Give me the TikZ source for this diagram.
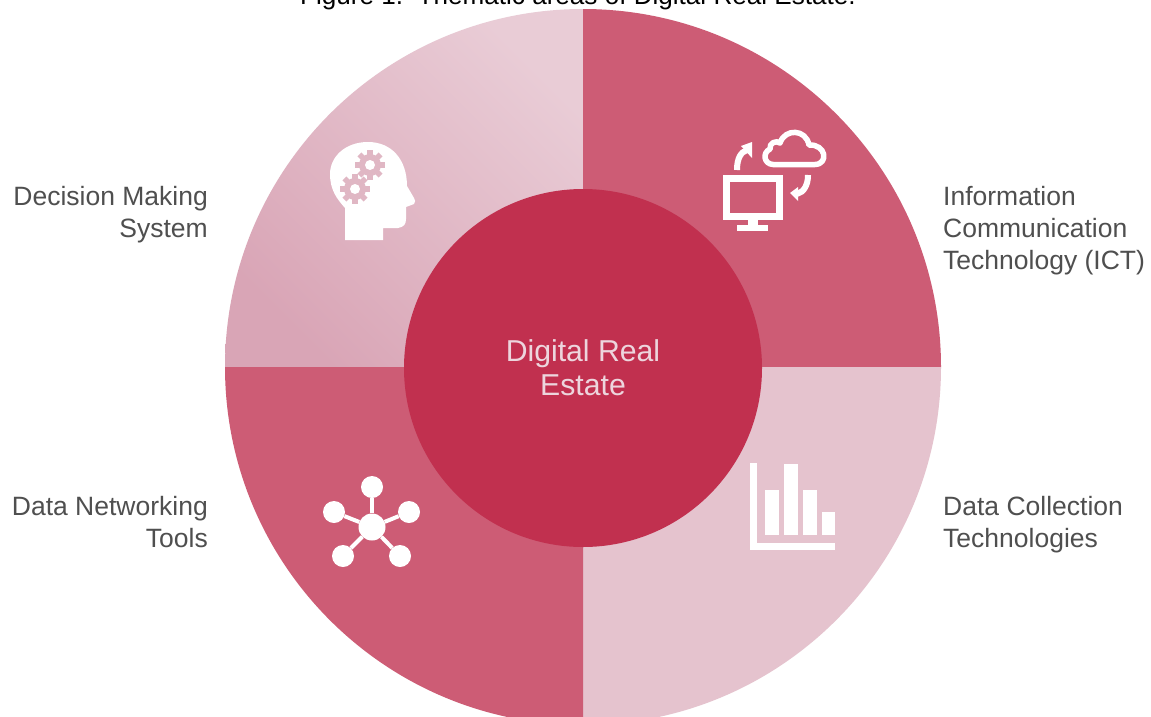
\documentclass[tikz,border=0pt]{standalone}
\usepackage{fontspec}
\setmainfont{Liberation Sans}
\definecolor{deep}{HTML}{C1304F}
\definecolor{mid}{HTML}{CD5C75}
\definecolor{pale}{HTML}{E5C3CE}
\definecolor{paleA}{HTML}{D9A5B6}
\definecolor{paleB}{HTML}{E9CCD6}
\definecolor{labelgrey}{HTML}{4F4F4F}
\tikzset{
  lab/.style={font=\fontsize{26.5}{32}\selectfont, text=labelgrey, inner sep=0pt},
  ico/.style={fill=white, draw=none},
  icoline/.style={draw=white, line width=7pt, fill=none},
}
\begin{document}
\begin{tikzpicture}[x=1pt,y=-1pt]
\useasboundingbox (0,0) rectangle (1151,716);
\clip (0,0) rectangle (1151,716);
\fill[white] (0,0) rectangle (1151,716);
% quadrants
\coordinate (c) at (583,367);
\begin{scope}
\clip (583,367) -- (225,367) arc[start angle=180,end angle=270,radius=358pt,y radius=-358pt] -- cycle;
\shade[bottom color=paleA, top color=paleB, shading angle=-45] (225,9) rectangle (583,367);
\end{scope}
\fill[mid] (583,367) -- (583,9) arc[start angle=90,end angle=0,radius=358pt] -- cycle;
\fill[pale] (583,367) -- (941,367) arc[start angle=0,end angle=-90,radius=358pt] -- cycle;
\fill[mid] (583,367) -- (583,725) arc[start angle=270,end angle=180,radius=358pt] -- cycle;
\node[circle, fill=deep, minimum size=358pt, inner sep=0pt, text=pale!70!white, align=center,
  font=\fontsize{30.2}{34}\selectfont] (hub) at (583,368) {Digital Real\\Estate};
% title
\node[anchor=base west, font=\fontsize{26.1}{30}\selectfont, text=black, inner sep=0pt] (title) at (300,4) {Figure 1.\ \ Thematic areas of Digital Real Estate.};
% labels
\node[lab, anchor=east, align=right] (dm) at (208,214.6) {\strut Decision Making\\\strut System};
\node[lab, anchor=west, align=left] (ict) at (943,231.5) {\strut Information\\\strut Communication\\\strut Technology (ICT)};
\node[lab, anchor=east, align=right] (dn) at (208,525) {\strut Data Networking\\\strut Tools};
\node[lab, anchor=west, align=left] (dc) at (943,525) {\strut Data Collection\\\strut Technologies};
% head icon
\fill[ico] (345,240) -- (383,240) -- (383,228) -- (398,228)
  .. controls (404,227) and (406,224) .. (406,219) -- (406,207) -- (414,204)
  .. controls (416,202) and (415,200) .. (414,198) -- (407,186)
  .. controls (407,160) and (392,142) .. (368,142)
  .. controls (345,142) and (330,157) .. (330,174)
  .. controls (330,190) and (337,199) .. (345,208) -- cycle;
\foreach \gx/\gy in {370/165,355/189}{
  \fill[paleA!55!paleB] (\gx,\gy) circle[radius=11pt];
  \foreach \a in {0,45,...,315}{
    \fill[paleA!55!paleB, shift={(\gx,\gy)}, rotate=\a] (-2.7,-15) rectangle (2.7,-9);
  }
  \fill[white] (\gx,\gy) circle[radius=5pt];
}
% computer and cloud icon
\draw[icoline] (726.5,178.5) rectangle (779.5,216.5);
\fill[ico] (748,220) rectangle (758,226);
\fill[ico] (737,225) rectangle (768,231);
\draw[white, line width=5.5pt, line join=round]
  (773,164.5) .. controls (764,164) and (762,153) .. (770,149)
  .. controls (769,143) and (776,140) .. (780,143)
  .. controls (785,128) and (806,129) .. (809,145)
  .. controls (826,144) and (829,164) .. (815,164.5) -- cycle;
\draw[white, line width=6pt] (737,170) .. controls (737,158) and (741,152) .. (747,150);
\fill[ico] (752,142) -- (741,146) -- (752,158) -- cycle;
\draw[white, line width=6pt] (808,175) .. controls (808,185) and (804,192) .. (797,194);
\fill[ico] (790,193) -- (798,187) -- (798,201) -- cycle;
% network icon
\foreach \nx/\ny/\nm in {372/487/na,334/512/nb,409/512/nc,343/556/nd,400/556/ne}{
  \node[circle, fill=white, minimum size=22pt, inner sep=0pt] (\nm) at (\nx,\ny) {};
}
\node[circle, fill=white, minimum size=27pt, inner sep=0pt] (nh) at (372,527) {};
\foreach \nm in {na,nb,nc,nd,ne}{ \draw[white, line width=4pt] (nh) -- (\nm); }
% bars icon
\fill[ico] (750,463) rectangle (757,550);
\fill[ico] (750,543) rectangle (835,550);
\fill[ico] (765,490) rectangle (779,535);
\fill[ico] (784,464) rectangle (798,535);
\fill[ico] (803,490) rectangle (817,535);
\fill[ico] (822,512) rectangle (835,535);
\end{tikzpicture}
\end{document}
